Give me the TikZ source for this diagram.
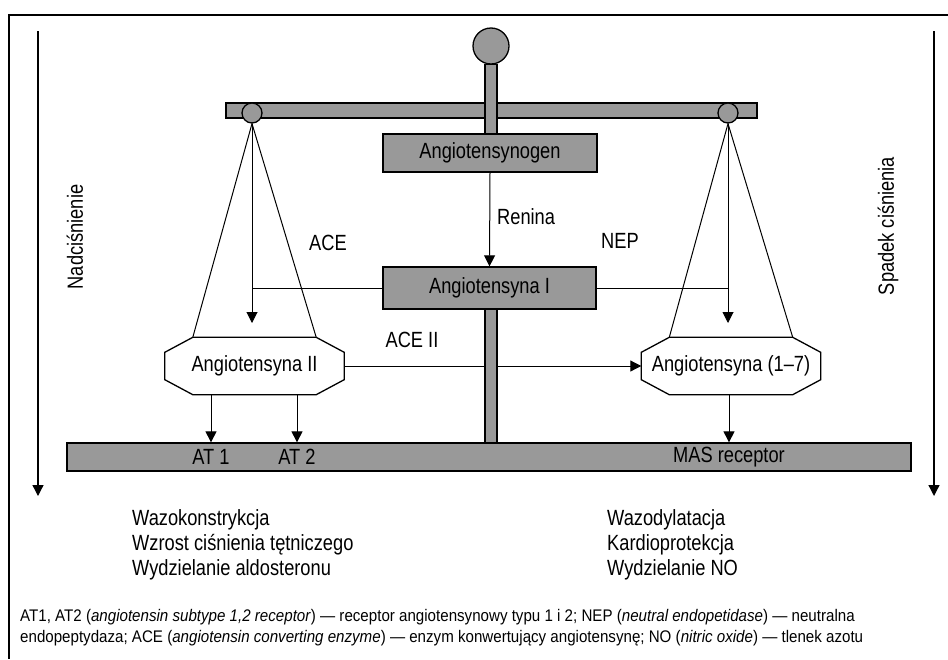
\documentclass[tikz,border=0pt]{standalone}
\usepackage{fontspec}
\setmainfont{Liberation Sans}[FakeStretch=0.83]
\newfontfamily\notefont{Liberation Sans}[FakeStretch=0.9]
\usetikzlibrary{arrows.meta,positioning,backgrounds}
\definecolor{scalegray}{RGB}{153,153,153}
\tikzset{
  part/.style={draw, line width=1.3pt, fill=scalegray, inner sep=0pt},
  octa/.style={minimum width=179pt, minimum height=57pt, inner sep=0pt},
  pivot/.style={circle, draw, line width=1.3pt, fill=scalegray, minimum size=20pt, inner sep=0pt},
  flow/.style={line width=1pt, -{Triangle[width=11pt,length=11pt]}},
  thin line/.style={line width=1pt},
}
\begin{document}
\begin{tikzpicture}[x=1pt, y=-1pt, font=\fontsize{22}{25}\selectfont]
\useasboundingbox (0,0) rectangle (948,659);

%Frame
\draw [line width=1.4pt] (948,15) -- (9,15) -- (9,659);

%Side arrows
\coordinate (lup) at (38,31);
\coordinate (ldown) at (38,496);
\coordinate (rup) at (934,31);
\coordinate (rdown) at (934,496);
\draw [flow, line width=1.3pt] (lup) -- (ldown);
\draw [flow, line width=1.3pt] (rup) -- (rdown);
\node [rotate=90, inner sep=0pt] (hyper) at (75,237) {Nadciśnienie};
\node [rotate=90, inner sep=0pt] (hypo) at (888,226) {Spadek ciśnienia};

%Scale
\node [part, minimum width=531pt, minimum height=15pt] (beam) at (491.5,110.5) {};
\node [part, minimum width=844pt, minimum height=28pt] (bar) at (489,457) {};
\node [pivot, minimum size=36pt] (ball) at (491,46) {};
\node [pivot] (lpivot) at (252,113) {};
\node [pivot] (rpivot) at (728,113) {};
\node [part, minimum width=214pt, minimum height=38pt] (gen) at (490,153) {Angiotensynogen};
\node [part, minimum width=213pt, minimum height=42pt] (ang1) at (489.5,288) {Angiotensyna I};
\draw [part] ([xshift=-6pt]ball.south) rectangle ([xshift=6pt]ball.south |- gen.north);

%Octagons
\node [octa] (ang2) at (254.5,366) {Angiotensyna II};
\node [octa] (ang17) at (731,366) {Angiotensyna (1--7)};
\begin{scope}[on background layer]
\foreach \n in {ang2,ang17}
  \draw [line width=1.3pt, fill=white] ([xshift=28pt]\n.north west) -- ([xshift=-28pt]\n.north east)
    -- ([yshift=-15pt]\n.north east) -- ([yshift=15pt]\n.south east) -- ([xshift=-28pt]\n.south east)
    -- ([xshift=28pt]\n.south west) -- ([yshift=15pt]\n.south west) -- ([yshift=-15pt]\n.north west) -- cycle;
\end{scope}

%Strings
\draw [thin line] ([xshift=28pt]ang2.north west) -- (lpivot.south) -- ([xshift=-28pt]ang2.north east);
\draw [thin line] ([xshift=28pt]ang17.north west) -- (rpivot.south) -- ([xshift=-28pt]ang17.north east);

%Flow lines
\coordinate (acetip) at (252,323);
\coordinate (neptip) at (728,323);
\draw [flow] (lpivot.south) -- (acetip);
\draw [flow] (rpivot.south) -- (neptip);
\draw [flow] (gen.south) -- (ang1.north);
\draw [thin line] (ang1.west) -- (ang1.west -| lpivot);
\draw [thin line] (ang1.east) -- (ang1.east -| rpivot);
\draw [flow] (ang2.east) -- (ang17.west);
\draw [part] ([xshift=-6pt]ball.south |- ang1.south) rectangle ([xshift=6pt]ball.south |- bar.north);

\node [inner sep=0pt] (at1) at (211,457) {AT 1};
\node [inner sep=0pt] (at2) at (297,457) {AT 2};
\node [inner sep=0pt] (mas) at (729,457) {MAS receptor};
\draw [flow] (ang2.south -| at1) -- (at1 |- bar.north);
\draw [flow] (ang2.south -| at2) -- (at2 |- bar.north);
\draw [flow] (ang17.south -| mas) -- (mas |- bar.north);

%Labels
\node [anchor=west, inner sep=0pt] (renina) at (497,217) {Renina};
\node [inner sep=0pt] (ace) at (328,243) {ACE};
\node [inner sep=0pt] (nep) at (620,241) {NEP};
\node [inner sep=0pt] (ace2) at (412,340) {ACE II};

%Effects
\node [anchor=west, align=left, inner sep=0pt] (effl) at (132,545) {Wazokonstrykcja\\Wzrost ciśnienia tętniczego\\Wydzielanie aldosteronu};
\node [anchor=west, align=left, inner sep=0pt] (effr) at (607,545) {Wazodylatacja\\Kardioprotekcja\\Wydzielanie NO};

%Footnote
\node [anchor=west, align=left, inner sep=0pt, font=\notefont\fontsize{16.8}{21}\selectfont] (notes) at (20,628) {AT1, AT2 (\textit{angiotensin subtype 1,2 receptor}) — receptor angiotensynowy typu 1 i 2; NEP (\textit{neutral endopetidase}) — neutralna\\endopeptydaza; ACE (\textit{angiotensin converting enzyme}) — enzym konwertujący angiotensynę; NO (\textit{nitric oxide}) — tlenek azotu};
\end{tikzpicture}
\end{document}
